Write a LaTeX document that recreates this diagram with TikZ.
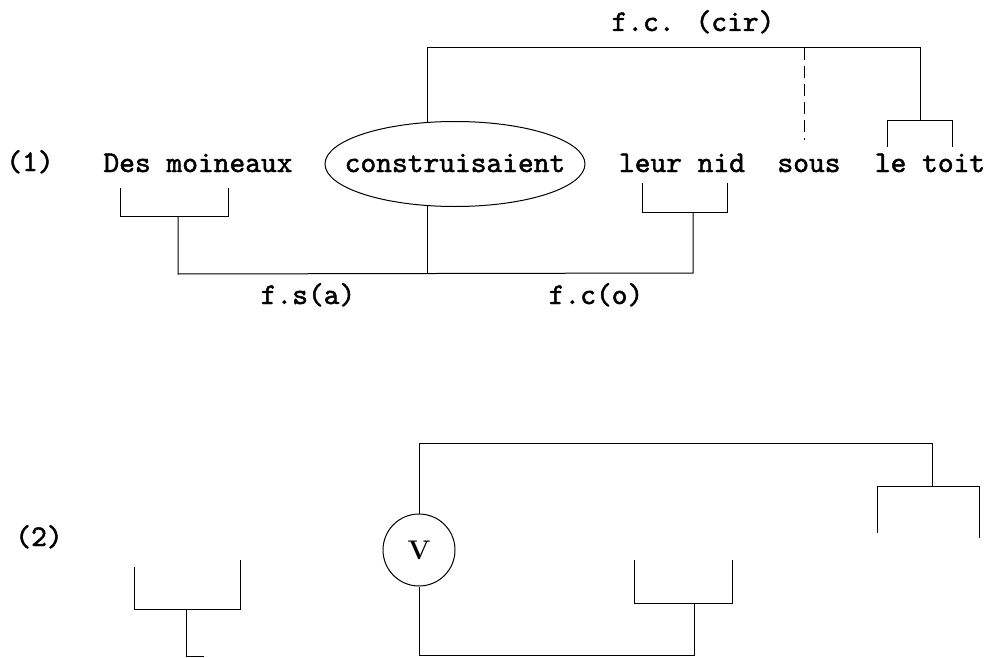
\documentclass[tikz,border=0pt]{standalone}
\usepackage{fontspec}
\newfontfamily\tw{lmmono10-regular.otf}[FakeBold=1.6]
\usetikzlibrary{shapes.geometric}
\begin{document}
\begin{tikzpicture}[x=1pt,y=-1pt,
  word/.style={font=\tw\bfseries\fontsize{30}{34}\selectfont, anchor=base, inner sep=0pt},
  link/.style={line width=1pt, black},
  dashlink/.style={link, dash pattern=on 12pt off 6pt},
  verbshape/.style={ellipse, draw, line width=1pt, minimum width=260pt, minimum height=85pt, inner sep=0pt},
  vshape/.style={circle, draw, line width=1pt, minimum size=72pt, inner sep=0pt,
     font=\bfseries\fontsize{27}{30}\selectfont}]
\useasboundingbox (0,0) rectangle (987,658);
% ---------- (1) ----------
\node[word] (n1) at (30,171) {(1)};
\node[word] (des) at (198,172) {Des moineaux};
\node[verbshape] (verb) at (455,164) {};
\node[word] (constr) at (455,172) {construisaient};
\node[word] (nid) at (682,172) {leur nid};
\node[word] (sous) at (809,172) {sous};
\node[word] (toit) at (930,172) {le toit};
\node[word] (lcir) at (693,31) {f.c. (cir)};
\node[word] (lsa) at (308,304) {f.s(a)};
\node[word] (lco) at (596,304) {f.c(o)};
% coordinates
\coordinate (topY) at (0,48);
\coordinate (botY) at (0,273);
\coordinate (desA) at (120,188);
\coordinate (desB) at (120,216);
\coordinate (desC) at (228,216);
\coordinate (desD) at (228,188);
\coordinate (desM) at (178,216);
\coordinate (desS) at (178,274);
\coordinate (nidA) at (642,183);
\coordinate (nidB) at (642,212);
\coordinate (nidC) at (727,212);
\coordinate (nidD) at (727,183);
\coordinate (nidM) at (693,212);
\coordinate (nidS) at (693,273);
\coordinate (sousTop) at (804,48);
\coordinate (sousBot) at (804,140);
\coordinate (toitTop) at (920,48);
\coordinate (toitM) at (920,121);
\coordinate (toitA) at (887,147);
\coordinate (toitB) at (887,121);
\coordinate (toitC) at (952,121);
\coordinate (toitD) at (952,147);
% connectors
\draw[link] (desA) -- (desB) -- (desC) -- (desD);
\draw[link] (desM) -- (desS) -- (nidS) -- (nidM);
\draw[link] (nidA) -- (nidB) -- (nidC) -- (nidD);
\draw[link] (verb.-123) -- (verb.-123 |- botY);
\draw[link] (verb.123) -- (verb.123 |- topY) -- (toitTop) -- (toitM);
\draw[link] (toitA) -- (toitB) -- (toitC) -- (toitD);
\draw[dashlink] (sousTop) -- (sousBot);
% ---------- (2) ----------
\node[word] (n2) at (39,546) {(2)};
\node[vshape] (V) at (419,550) {V};
\coordinate (lA) at (134,567);
\coordinate (lB) at (134,609);
\coordinate (lC) at (240,609);
\coordinate (lD) at (240,560);
\coordinate (lM) at (186,609);
\coordinate (lS) at (186,656);
\coordinate (lE) at (204,656);
\coordinate (vTopY) at (0,443);
\coordinate (rTop) at (932,443);
\coordinate (rM) at (932,486);
\coordinate (rA) at (877,533);
\coordinate (rB) at (877,486);
\coordinate (rC) at (979,486);
\coordinate (rD) at (979,538);
\coordinate (vBotY) at (0,655);
\coordinate (mS) at (694,655);
\coordinate (mM) at (694,603);
\coordinate (mA) at (634,560);
\coordinate (mB) at (634,603);
\coordinate (mC) at (732,603);
\coordinate (mD) at (732,560);
\draw[link] (lA) -- (lB) -- (lC) -- (lD);
\draw[link] (lM) -- (lS) -- (lE);
\draw[link] (V.north) -- (V.north |- vTopY) -- (rTop) -- (rM);
\draw[link] (rA) -- (rB) -- (rC) -- (rD);
\draw[link] (V.south) -- (V.south |- vBotY) -- (mS) -- (mM);
\draw[link] (mA) -- (mB) -- (mC) -- (mD);
\end{tikzpicture}
\end{document}
